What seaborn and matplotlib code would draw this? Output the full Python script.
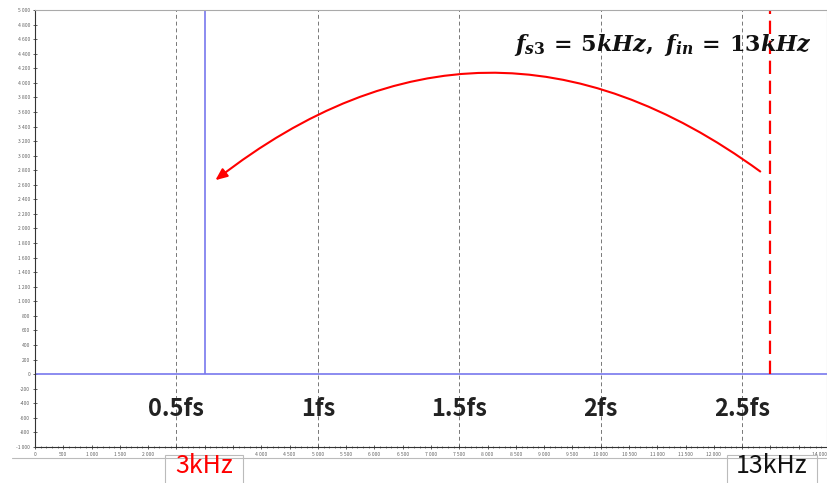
"""
Aliasing spectrum: 13 kHz input sampled at 5 kHz folds down to 3 kHz.
"""

import matplotlib
matplotlib.use("Agg")
import matplotlib.pyplot as plt
import matplotlib.ticker as mticker
from matplotlib.patches import Rectangle
from matplotlib.lines import Line2D
import seaborn as sns
import pandas as pd

# Data
baseline_freq = [0, 14000]
baseline_amp = [0, 0]
alias_freq = 3000          # folded tone (Hz)
alias_amp = 5000
input_freq = 13000         # actual input tone (Hz)
input_amp = 5000
fs_marks = [2500, 5000, 7500, 10000, 12500]
fs_labels = ["0.5fs", "1fs", "1.5fs", "2fs", "2.5fs"]
arrow_start = (12860, 2760)
arrow_end = (3150, 2640)
hidden_xticks = [2500, 3000, 3500, 12500, 13000, 13500]

sns.set_style("white")
plt.rcParams["font.family"] = ["Noto Sans CJK SC", "DejaVu Sans"]
plt.rcParams["mathtext.fontset"] = "custom"
plt.rcParams["mathtext.it"] = "DejaVu Serif:italic:bold"
plt.rcParams["mathtext.rm"] = "DejaVu Serif:bold"
plt.rcParams["mathtext.bf"] = "DejaVu Serif:bold"

fig = plt.figure(figsize=(8.28, 4.83), dpi=100)
ax = fig.add_axes([35 / 828, 1 - 447 / 483, 792 / 828, 437 / 483])

blue = "#7878ee"

# baseline and folded tone
df = pd.DataFrame({"freq": baseline_freq, "amp": baseline_amp})
sns.lineplot(data=df, x="freq", y="amp", ax=ax, color=blue, lw=1.2,
             estimator=None, sort=False)
ax.vlines(alias_freq, 0, alias_amp, color=blue, lw=1.2)
ax.vlines(input_freq, 0, input_amp, color="red", lw=1.6,
          linestyles=(0, (6, 3)))

# multiples of fs
for xm, lab in zip(fs_marks, fs_labels):
    ax.axvline(xm, color="#777777", lw=0.7, ls=(0, (4, 3)), zorder=0)
    ax.text(xm, -480, lab, ha="center", va="center", fontsize=17,
            fontweight="bold", color="#222222")

# folding arrow
ax.annotate("", xy=arrow_end, xytext=arrow_start,
            arrowprops=dict(arrowstyle="-|>,head_length=0.7,head_width=0.3",
                            color="red", lw=1.5,
                            connectionstyle="arc3,rad=0.38"))

ax.text(13730, 4440, r"$f_{s3}\,=\,5kHz,\ f_{in}\,=\,13kHz$", ha="right",
        va="baseline", fontsize=16, color="#111111")

# axes styling
ax.set_xlim(0, 14000)
ax.set_ylim(-1000, 5000)
ax.set_xlabel("")
ax.set_ylabel("")


def thousands(v):
    v = int(round(v))
    s = f"{abs(v):,}".replace(",", " ")
    return ("-" if v < 0 else "") + s


def fmt_x(v, pos):
    if int(round(v)) in hidden_xticks:
        return ""
    return thousands(v)


def fmt_y(v, pos):
    return thousands(v)


ax.xaxis.set_major_locator(mticker.MultipleLocator(500))
ax.xaxis.set_minor_locator(mticker.MultipleLocator(100))
ax.yaxis.set_major_locator(mticker.MultipleLocator(200))
ax.xaxis.set_major_formatter(mticker.FuncFormatter(fmt_x))
ax.yaxis.set_major_formatter(mticker.FuncFormatter(fmt_y))
ax.tick_params(axis="both", which="major", labelsize=3.6, labelcolor="#666666",
               length=3, width=0.6, color="#444444", direction="inout", pad=2)
ax.tick_params(axis="x", which="minor", length=2, width=0.5, color="#444444",
               direction="inout", bottom=True)
ax.tick_params(axis="y", left=True)
ax.tick_params(axis="x", bottom=True)
for side in ["left", "bottom"]:
    ax.spines[side].set_color("#333333")
    ax.spines[side].set_linewidth(0.8)
for side in ["top", "right"]:
    ax.spines[side].set_color("#aaaaaa")
    ax.spines[side].set_linewidth(0.8)

# keep the last x tick label inside the picture
fig.canvas.draw()
for t in ax.get_xticklabels():
    if t.get_position()[0] >= 13999:
        t.set_horizontalalignment("right")

# separator line and frequency boxes under the axis
fig.add_artist(Line2D([12 / 828, 1], [1 - 458 / 483] * 2, color="#bbbbbb", lw=0.8))
for x0, w, label, col in [(165, 78, "3kHz", "red"), (727, 90, "13kHz", "#111111")]:
    fig.add_artist(Rectangle((x0 / 828, -0.02), w / 828, (483 - 455) / 483 + 0.02,
                             facecolor="white", edgecolor="#bbbbbb", lw=0.8,
                             transform=fig.transFigure))
    fig.text((x0 + w / 2) / 828, 1 - 466 / 483, label, ha="center", va="center",
             fontsize=18, color=col)

fig.savefig("out.png", dpi=100)
